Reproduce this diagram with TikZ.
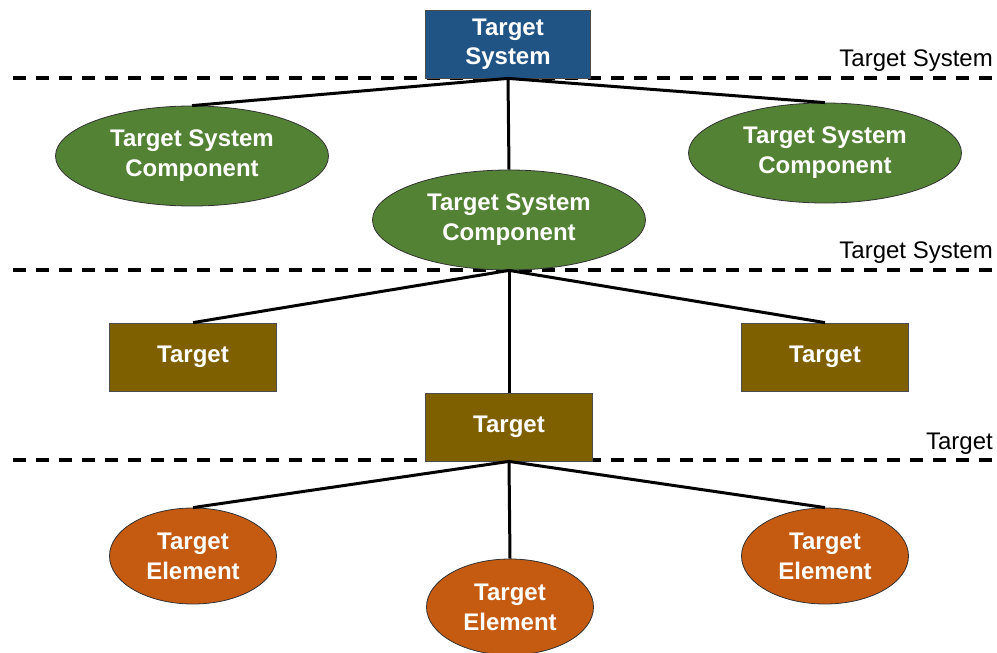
\documentclass[tikz,border=0pt]{standalone}
\usepackage{fontspec}
\setmainfont{Liberation Sans}
\usepackage{xcolor}
\usetikzlibrary{shapes.geometric, positioning, calc}

\definecolor{sysblue}{RGB}{31,84,133}
\definecolor{compgreen}{RGB}{84,130,53}
\definecolor{tgtolive}{RGB}{127,96,0}
\definecolor{elemorange}{RGB}{197,90,17}

\tikzset{
  sysbox/.style={rectangle, draw=black!70, line width=0.8pt, fill=sysblue, text=white,
    font=\fontsize{24}{29}\selectfont\bfseries, align=center, minimum width=165pt, minimum height=68pt, inner sep=0pt},
  compnode/.style={ellipse, draw=black!80, line width=0.8pt, fill=compgreen, text=white,
    font=\fontsize{24}{30}\selectfont\bfseries, align=center, minimum width=273pt, minimum height=100pt, inner sep=0pt},
  tgtbox/.style={rectangle, draw=black!70, line width=0.8pt, fill=tgtolive, text=white,
    font=\fontsize{24}{28}\selectfont\bfseries, align=center, minimum width=167pt, minimum height=68pt, inner sep=0pt},
  elemnode/.style={ellipse, draw=black!80, line width=0.8pt, fill=elemorange, text=white,
    font=\fontsize{24}{30}\selectfont\bfseries, align=center, minimum width=167pt, minimum height=96pt, inner sep=0pt},
  link/.style={line width=3pt, black},
  divider/.style={line width=4pt, black, dash pattern=on 13pt off 10pt},
  levellabel/.style={font=\fontsize{24}{28}\selectfont, anchor=base east, inner sep=0pt}
}

\begin{document}
\begin{tikzpicture}[x=1pt, y=-1pt]
  \useasboundingbox (0,0) rectangle (997,653);

  % level dividers
  \coordinate (d1l) at (13,78);  \coordinate (d1r) at (997,78);
  \coordinate (d2l) at (13,270); \coordinate (d2r) at (997,270);
  \coordinate (d3l) at (13,460); \coordinate (d3r) at (997,460);
  \draw[divider] (d1l) -- (d1r);
  \draw[divider] (d2l) -- (d2r);
  \draw[divider] (d3l) -- (d3r);
  \node[levellabel] (lab1) at (993,66) {Target System};
  \node[levellabel] (lab2) at (993,258) {Target System};
  \node[levellabel] (lab3) at (993,449) {Target};

  % nodes
  \node[sysbox] (sys) at (508,44) {Target\\System};
  \node[compnode] (compL) at (192,156) {Target System\\Component};
  \node[compnode] (compR) at (825,153) {Target System\\Component};
  \node[compnode] (compM) at (509,220) {Target System\\Component};

  \node[tgtbox] (tgtL) at (193,357) {Target};
  \node[tgtbox] (tgtR) at (825,357) {Target};
  \node[tgtbox] (tgtM) at (509,427) {Target};

  \node[elemnode] (elemL) at (193,556) {Target\\Element};
  \node[elemnode] (elemR) at (825,556) {Target\\Element};
  \node[elemnode] (elemM) at (510,607) {Target\\Element};

  % connectors
  \draw[link] (sys.south) -- (compL.north);
  \draw[link] (sys.south) -- (compR.north);
  \draw[link] (sys.south) -- (compM.north);
  \draw[link] (compM.south) -- (tgtL.north);
  \draw[link] (compM.south) -- (tgtR.north);
  \draw[link] (compM.south) -- (tgtM.north);
  \draw[link] (tgtM.south) -- (elemL.north);
  \draw[link] (tgtM.south) -- (elemR.north);
  \draw[link] (tgtM.south) -- (elemM.north);
\end{tikzpicture}
\end{document}
